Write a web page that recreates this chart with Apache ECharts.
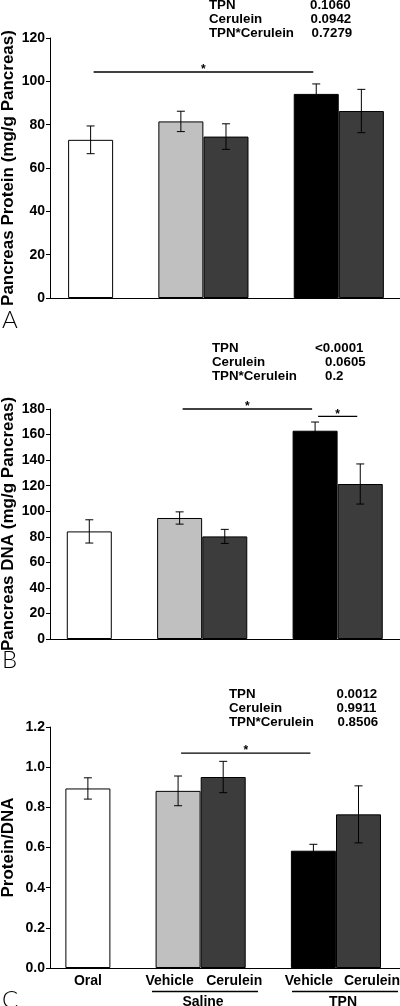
<!DOCTYPE html>
<html>
<head>
<meta charset="utf-8">
<script src="https://cdn.jsdelivr.net/npm/echarts@6/dist/echarts.min.js"></script>
<style>
html,body{margin:0;padding:0;background:#fff;}
#chart{width:400px;height:1006px;}
</style>
</head>
<body>
<div id="chart"></div>
<script>
// ---------- DATA ----------
const slotLabels = ['Oral', '', 'Vehicle', 'Cerulein', '', 'Vehicle', 'Cerulein'];
const groupLabels = ['Saline', 'TPN'];

const proteinMean = [73.0, 81.5, 74.5, 94.2, 86.3];
const proteinErr  = [6.4, 4.7, 5.9, 4.6, 10.0];

const dnaMean = [84.2, 94.7, 80.3, 163.0, 121.3];
const dnaErr  = [9.1, 4.8, 5.5, 6.8, 15.7];

const ratioMean = [0.894, 0.882, 0.951, 0.584, 0.765];
const ratioErr  = [0.053, 0.074, 0.078, 0.032, 0.142];

const yTicksA = [0, 20, 40, 60, 80, 100, 120];
const yTicksB = [0, 20, 40, 60, 80, 100, 120, 140, 160, 180];
const yTicksC = [0.0, 0.2, 0.4, 0.6, 0.8, 1.0, 1.2];

const yTitleA = 'Pancreas Protein (mg/g Pancreas)';
const yTitleB = 'Pancreas DNA (mg/g Pancreas)';
const yTitleC = 'Protein/DNA';

const statsA = [['TPN', '0.1060'], ['Cerulein', '0.0942'], ['TPN*Cerulein', '0.7279']];
const statsB = [['TPN', '<0.0001'], ['Cerulein', '0.0605'], ['TPN*Cerulein', '0.2']];
const statsC = [['TPN', '0.0012'], ['Cerulein', '0.9911'], ['TPN*Cerulein', '0.8506']];

// significance brackets: [fromSlot, toSlot, level]
const sigA = [[0, 5, 104.3]];
const sigB = [[2, 5, 180.0], [5, 6, 174.2]];
const sigC = [[2, 5, 1.07]];

const panelLetters = ['A', 'B', 'C'];

// ---------- LAYOUT / STYLE ----------
const FONT = '"Liberation Sans", Arial, sans-serif';
const barColors = ['#ffffff', '#c0c0c0', '#3c3c3c', '#000000', '#3c3c3c'];
const barSlots = slotLabels.map((l, i) => l ? i : -1).filter(i => i >= 0);

const panels = [
  {top: 38, height: 260, left: 50, xMin: -0.9, xMax: 6.856, ticks: yTicksA, title: yTitleA,
   mean: proteinMean, err: proteinErr, sig: sigA, fmt: v => String(v)},
  {top: 409, height: 230, left: 50, xMin: -0.87, xMax: 6.88, ticks: yTicksB, title: yTitleB,
   mean: dnaMean, err: dnaErr, sig: sigB, fmt: v => String(v)},
  {top: 727, height: 241, left: 50, xMin: -0.84, xMax: 6.92, ticks: yTicksC, title: yTitleC,
   mean: ratioMean, err: ratioErr, sig: sigC, fmt: v => v.toFixed(1)}
];

const grids = [], xAxes = [], yAxes = [], series = [];
panels.forEach((p, i) => {
  grids.push({left: p.left, right: 0, top: p.top, height: p.height, containLabel: false, outerBoundsMode: 'none'});
  xAxes.push({type: 'value', gridIndex: i, min: p.xMin, max: p.xMax,
    axisLine: {show: true, onZero: false, lineStyle: {color: '#000', width: 1}},
    axisTick: {show: false}, axisLabel: {show: false}, splitLine: {show: false}});
  const tk = p.ticks;
  yAxes.push({type: 'value', gridIndex: i, min: tk[0], max: tk[tk.length - 1],
    interval: tk[1] - tk[0],
    name: p.title, nameLocation: 'middle', nameRotate: 90, nameGap: 33, nameMoveOverlap: false,
    nameTextStyle: {fontFamily: FONT, fontWeight: 'bold', fontSize: 17, color: '#000'},
    axisLine: {show: true, onZero: false, lineStyle: {color: '#000', width: 1}},
    axisTick: {show: true, inside: false, length: 4, lineStyle: {color: '#000'}},
    axisLabel: {margin: 5, fontFamily: FONT, fontWeight: 'bold', fontSize: 14, color: '#000',
      formatter: p.fmt},
    splitLine: {show: false}});

  series.push({type: 'bar', xAxisIndex: i, yAxisIndex: i, barWidth: 45, z: 2,
    data: p.mean.map((m, k) => ({value: [barSlots[k], m],
      itemStyle: {color: barColors[k], borderColor: '#000', borderWidth: 1}})),
    animation: false});

  series.push({type: 'custom', xAxisIndex: i, yAxisIndex: i, z: 5, animation: false,
    encode: {x: 0, y: [1, 2]},
    data: p.mean.map((m, k) => [barSlots[k], m, p.err[k]]),
    renderItem: (params, api) => {
      const x = api.value(0), m = api.value(1), e = api.value(2);
      const t = api.coord([x, m + e]), b = api.coord([x, m - e]);
      const w = 4, st = {stroke: '#000', lineWidth: 1};
      return {type: 'group', children: [
        {type: 'line', shape: {x1: t[0], y1: t[1], x2: b[0], y2: b[1]}, style: st},
        {type: 'line', shape: {x1: t[0] - w, y1: t[1], x2: t[0] + w, y2: t[1]}, style: st},
        {type: 'line', shape: {x1: b[0] - w, y1: b[1], x2: b[0] + w, y2: b[1]}, style: st}
      ]};
    }});

  series.push({type: 'custom', xAxisIndex: i, yAxisIndex: i, z: 6, animation: false,
    encode: {x: [0, 1], y: 2},
    data: p.sig,
    renderItem: (params, api) => {
      const a = api.coord([api.value(0), api.value(2)]);
      const b = api.coord([api.value(1), api.value(2)]);
      const inset = 3;
      return {type: 'group', children: [
        {type: 'line', shape: {x1: a[0] + inset, y1: a[1], x2: b[0] - inset, y2: b[1]},
          style: {stroke: '#000', lineWidth: 1.3}},
        {type: 'text', x: (a[0] + b[0]) / 2, y: a[1] - 2,
          style: {text: '*', fontFamily: FONT, fontWeight: 'bold', fontSize: 12, fill: '#000',
            align: 'center', verticalAlign: 'middle'}}
      ]};
    }});
});

// category labels under panel C
const labelDx = [0, -8.5, 11, -4.5, 13.5];
series.push({type: 'custom', xAxisIndex: 2, yAxisIndex: 2, z: 6, animation: false,
  encode: {x: 0, y: 1},
  data: barSlots.map(s => [s, 0]),
  renderItem: (params, api) => {
    const c = api.coord([api.value(0), 0]);
    const k = params.dataIndex;
    return {type: 'text', x: c[0] + labelDx[k], y: c[1] + 13,
      style: {text: slotLabels[barSlots[k]], fontFamily: FONT, fontWeight: 'bold', fontSize: 14,
        fill: '#000', align: 'center', verticalAlign: 'middle'}};
  }});

const graphic = [];
function statsBlock(rows, x1, x2s, y0) {
  rows.forEach((r, j) => {
    const y = y0 + j * 13.8;
    graphic.push({type: 'text', x: x1, y: y, style: {text: r[0], fontFamily: FONT, fontWeight: 'bold',
      fontSize: 13.3, fill: '#000', align: 'left', verticalAlign: 'middle'}});
    graphic.push({type: 'text', x: x2s[j], y: y, style: {text: r[1], fontFamily: FONT, fontWeight: 'bold',
      fontSize: 13.3, fill: '#000', align: 'left', verticalAlign: 'middle'}});
  });
}
statsBlock(statsA, 209, [310, 310.5, 311.5], 5.5);
statsBlock(statsB, 212, [315, 325, 325], 348.5);
statsBlock(statsC, 229, [336.5, 336.5, 337.5], 694.5);

// group underlines + labels
const groupSpans = [[152, 258], [292, 398]];
groupSpans.forEach((s, j) => {
  graphic.push({type: 'line', shape: {x1: s[0], y1: 991.5, x2: s[1], y2: 991.5},
    style: {stroke: '#000', lineWidth: 1.3}});
  graphic.push({type: 'text', x: (s[0] + s[1]) / 2 - 2, y: 995, style: {text: groupLabels[j],
    fontFamily: FONT, fontWeight: 'bold', fontSize: 14, fill: '#000', align: 'center', verticalAlign: 'top'}});
});

// panel letters
const letterY = [320, 660, 1000];
panelLetters.forEach((L, j) => {
  graphic.push({type: 'text', x: 2, y: letterY[j], style: {text: L, fontFamily: 'Lato, "Open Sans", sans-serif',
    fontWeight: 300, fontSize: 24, fill: '#000', align: 'left', verticalAlign: 'middle'}});
});

const chart = echarts.init(document.getElementById('chart'), null, {renderer: 'canvas'});
chart.setOption({
  animation: false,
  backgroundColor: '#fff',
  grid: grids, xAxis: xAxes, yAxis: yAxes, series: series, graphic: graphic
});
</script>
</body>
</html>
